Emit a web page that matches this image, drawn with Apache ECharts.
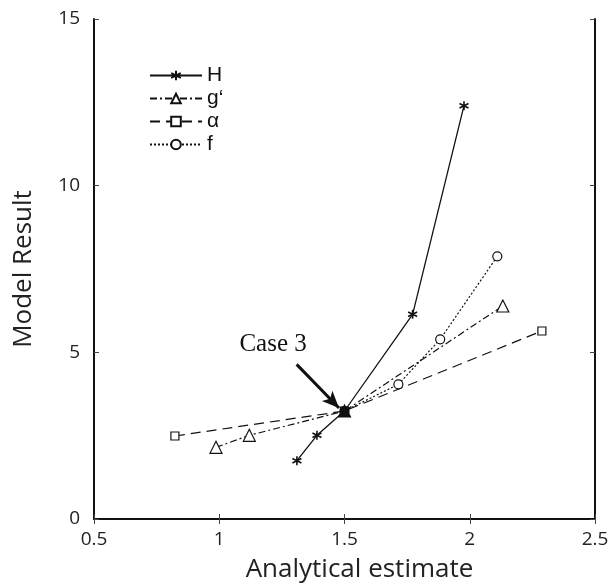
<!DOCTYPE html>
<html>
<head>
<meta charset="utf-8">
<script src="https://cdn.jsdelivr.net/npm/echarts@6/dist/echarts.min.js"></script>
<style>
  html, body { margin: 0; padding: 0; background: #fff; }
  #chart { width: 615px; height: 588px; }
</style>
</head>
<body>
<div id="chart"></div>
<script>
// data
var hX = [1.31, 1.39, 1.5, 1.772, 1.977]
var hY = [1.75, 2.51, 3.24, 6.14, 12.4]
var gX = [0.987, 1.12, 1.5, 2.132]
var gY = [2.15, 2.51, 3.24, 6.39]
var aX = [0.823, 1.5, 2.288]
var aY = [2.49, 3.24, 5.64]
var fX = [1.5, 1.715, 1.882, 2.11]
var fY = [3.24, 4.04, 5.39, 7.88]
var caseX = 1.5
var caseY = 3.24

var star = 'path://M5,0 L5,10 M0.7,2.5 L9.3,7.5 M9.3,2.5 L0.7,7.5'

function pts(xs, ys) {
  return xs.map(function (x, i) {
    var p = { value: [x, ys[i]] }
    if (x === caseX && ys[i] === caseY) {
      p.itemStyle = { color: '#111' }
    }
    return p
  })
}

var chart = echarts.init(document.getElementById('chart'))

var axisFont = { fontFamily: 'Open Sans', fontSize: 19, color: '#222' }
var nameFont = { fontFamily: 'Open Sans', fontSize: 26, color: '#222' }
var boxLine = { show: true, lineStyle: { color: '#111', width: 2 } }
var inTick = { show: true, inside: true, length: 5, lineStyle: { color: '#444' } }

chart.setOption({
  backgroundColor: '#fff',
  animation: false,
  grid: { left: 94, right: 20, top: 19, bottom: 68 },
  legend: {
    orient: 'vertical',
    left: 144,
    top: 60,
    itemWidth: 52,
    itemHeight: 12,
    itemGap: 2,
    textStyle: { fontFamily: 'Liberation Sans', fontSize: 21, color: '#111' },
    data: ['H', 'g‘', 'α', 'f']
  },
  xAxis: [{
    type: 'value',
    min: 0.5,
    max: 2.5,
    interval: 0.5,
    name: 'Analytical estimate',
    nameLocation: 'middle',
    nameGap: 38,
    nameTextStyle: Object.assign({ padding: [0, 0, 0, 30] }, nameFont),
    axisLine: boxLine,
    axisTick: inTick,
    axisLabel: Object.assign({ margin: 11 }, axisFont),
    splitLine: { show: false }
  }, {
    type: 'value',
    position: 'top',
    min: 0.5,
    max: 2.5,
    interval: 0.5,
    axisLine: boxLine,
    axisTick: inTick,
    axisLabel: { show: false },
    splitLine: { show: false }
  }],
  yAxis: [{
    type: 'value',
    min: 0,
    max: 15,
    interval: 5,
    name: 'Model Result',
    nameLocation: 'middle',
    nameGap: 57,
    nameTextStyle: nameFont,
    axisLine: boxLine,
    axisTick: inTick,
    axisLabel: Object.assign({ margin: 14 }, axisFont),
    splitLine: { show: false }
  }, {
    type: 'value',
    position: 'right',
    min: 0,
    max: 15,
    interval: 5,
    axisLine: boxLine,
    axisTick: inTick,
    axisLabel: { show: false },
    splitLine: { show: false }
  }],
  series: [{
    name: 'α',
    type: 'line',
    symbol: 'rect',
    symbolSize: 8,
    itemStyle: { color: '#fff', borderColor: '#111', borderWidth: 1.2 },
    lineStyle: { color: '#111', width: 1.2, type: [10, 6] },
    data: pts(aX, aY)
  }, {
    name: 'g‘',
    type: 'line',
    symbol: 'triangle',
    symbolSize: 12,
    itemStyle: { color: '#fff', borderColor: '#111', borderWidth: 1.2 },
    lineStyle: { color: '#111', width: 1.2, type: [7, 3, 2, 3] },
    data: pts(gX, gY)
  }, {
    name: 'f',
    type: 'line',
    symbol: 'circle',
    symbolSize: 9,
    itemStyle: { color: '#fff', borderColor: '#111', borderWidth: 1.2 },
    lineStyle: { color: '#111', width: 1.2, type: [2, 2] },
    data: pts(fX, fY)
  }, {
    name: 'H',
    type: 'line',
    symbol: star,
    symbolSize: 9,
    itemStyle: { color: 'none', borderColor: '#111', borderWidth: 1.6 },
    lineStyle: { color: '#111', width: 1.3 },
    data: pts(hX, hY),
    markLine: {
      silent: true,
      symbol: ['none', 'arrow'],
      symbolSize: [11, 17],
      lineStyle: { color: '#111', width: 3, type: 'solid' },
      label: { show: false },
      data: [[{ coord: [1.309, 4.64] }, { coord: [1.478, 3.33] }]]
    },
    markPoint: {
      silent: true,
      symbol: 'circle',
      symbolSize: 0,
      label: {
        show: true,
        formatter: 'Case 3',
        fontFamily: 'Liberation Serif',
        fontSize: 25,
        color: '#111'
      },
      data: [{ coord: [1.215, 5.24] }]
    }
  }]
})
</script>
</body>
</html>
